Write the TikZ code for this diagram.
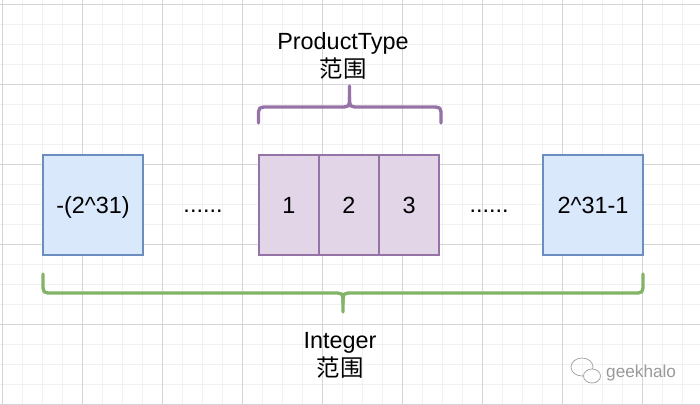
\documentclass[tikz,border=0pt]{standalone}
\usepackage{fontspec}
\setmainfont{Liberation Sans}
\newfontfamily\cjk{Noto Sans CJK SC}
\usetikzlibrary{positioning}
\definecolor{bluefill}{HTML}{DAE8FC}
\definecolor{bluedraw}{HTML}{6C8EBF}
\definecolor{purplefill}{HTML}{E1D5E7}
\definecolor{purpledraw}{HTML}{9673A6}
\definecolor{greendraw}{HTML}{82B366}
\definecolor{gridminor}{HTML}{F1F1F1}
\definecolor{gridmajor}{HTML}{D4D4D4}
\tikzset{
  bigtext/.style={font=\fontsize{23.4}{28}\selectfont},
  bluebox/.style={bigtext,draw=bluedraw,fill=bluefill,line width=1.3pt,minimum width=100pt,minimum height=100pt,inner sep=0pt,outer sep=0pt,text height=16.8pt,text depth=0pt},
  purplebox/.style={bigtext,draw=purpledraw,fill=purplefill,line width=1.3pt,minimum width=60pt,minimum height=100pt,inner sep=0pt,outer sep=0pt,text height=16.8pt,text depth=0pt},
  rangelabel/.style={bigtext,align=center,inner sep=0pt},
  gbrace/.style={draw=greendraw,line width=3.3pt,line cap=round},
  pbrace/.style={draw=purpledraw,line width=3.3pt,line cap=round}
}
\begin{document}
\begin{tikzpicture}[x=1pt,y=-1pt]
\useasboundingbox (0,0) rectangle (700,404);
%grid
\foreach \k in {0,...,34}{
\draw[gridminor,line width=1pt](2.7+\k*20,0)--(2.7+\k*20,404);
}
\foreach \k in {0,...,20}{
\draw[gridminor,line width=1pt](0,4.3+\k*20)--(700,4.3+\k*20);
}
\foreach \k in {0,...,8}{
\draw[gridmajor,line width=1pt](2.7+\k*80,0)--(2.7+\k*80,404);
}
\foreach \k in {0,...,5}{
\draw[gridmajor,line width=1pt](0,4.3+\k*80)--(700,4.3+\k*80);
}
%boxes
\node[bluebox](low)at(93,205){-(2\textasciicircum 31)};
\node[purplebox](one)at(289,205){1};
\node[purplebox,right=0pt of one](two){2};
\node[purplebox,right=0pt of two](three){3};
\node[bluebox](high)at(593,205){2\textasciicircum 31-1};
%dots
\node[bigtext,anchor=base](ldots)at(203,212.7){......};
\node[bigtext,anchor=base](rdots)at(489,212.7){......};
%ProductType brace
\draw[pbrace](258.5,123)--(258.5,117) .. controls (258.5,107) .. (268.5,107)--(339.5,107) .. controls (349.5,107) .. (349.5,97)--(349.5,86);
\draw[pbrace](441,123)--(441,117) .. controls (441,107) .. (431,107)--(359.5,107) .. controls (349.5,107) .. (349.5,97);
%Integer brace
\draw[gbrace](43,274)--(43,283) .. controls (43,293) .. (53,293)--(333,293) .. controls (343,293) .. (343,303)--(343,312);
\draw[gbrace](643,274)--(643,283) .. controls (643,293) .. (633,293)--(353,293) .. controls (343,293) .. (343,303);
%labels
\node[rangelabel](ptlabel)at(343,56){ProductType\\{\cjk 范围}};
\node[rangelabel](intlabel)at(340,355){Integer\\{\cjk 范围}};
%watermark
\draw[gray!70,line width=.8pt](582,367) ellipse (11pt and 9pt);
\draw[gray!70,line width=.8pt,fill=white](592,376) ellipse (8.5pt and 7pt);
\node[gray!80,font=\fontsize{17.2}{20}\selectfont,anchor=west,inner sep=0pt](mark)at(606,373){geekhalo};
\end{tikzpicture}
\end{document}
